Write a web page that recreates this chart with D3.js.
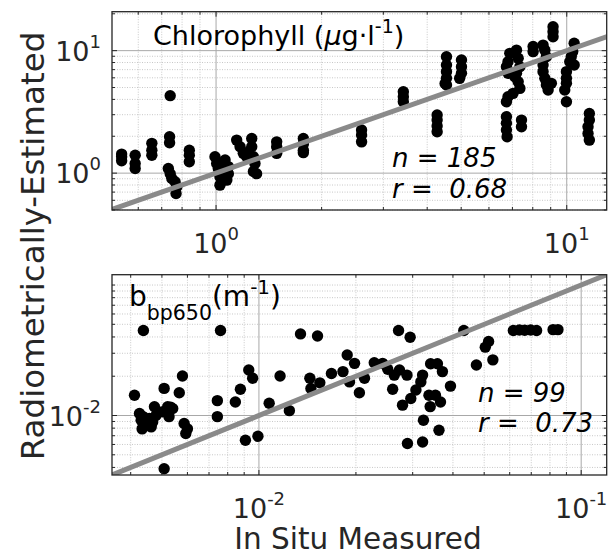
<!DOCTYPE html>
<html><head><meta charset="utf-8">
<script src="https://cdn.jsdelivr.net/npm/d3@7"></script>
<style>body{margin:0;background:#fff}svg{display:block}text{font-family:"DejaVu Sans",sans-serif}</style>
</head><body><svg id="c" width="610" height="559"></svg>
<script>
// ---------------- DATA ----------------
// Chlorophyll panel (in situ x, radiometric y), mg m^-3
const chlX = [0.538,0.538,0.538, 0.588,0.588,0.588, 0.656,0.656,0.656, 0.740, 0.737,0.737,
  0.731,0.740,0.748,0.764,0.773,0.769, 0.839,0.839,0.839,
  0.993,1.004,1.015,1.026,1.026,1.061,1.084,1.084,1.073,1.049,
  1.145,1.171,1.196,1.223,1.264,1.264,1.278,1.291,1.278,1.305,1.236,
  1.489,1.489,1.489, 1.774,1.774,1.774,1.774, 2.60,2.60,2.60, 3.42,3.42,3.42,
  4.27,4.27,4.27,4.27, 4.54,4.54,4.54,4.54,4.54,4.50, 5.01,5.01,5.01,4.95,
  6.88,6.80,6.73,7.19,7.27,7.35,7.19,7.27,7.35,7.03,6.80,6.73,6.73,6.73,6.73,6.76,7.43,7.43,7.11,6.80,
  8.02,8.02,8.56,8.66,8.75,8.56,8.56,8.66,8.75,8.85,9.04,9.14,9.14,9.14,
  10.5,10.4,10.3,10.2,10.5,9.98,9.98,9.98,9.87,9.98,
  11.6,11.6,11.5,11.5,11.6];
const chlY = [1.43,1.26,1.36, 1.40,1.20,1.09, 1.75,1.54,1.40, 4.29, 1.98,1.77,
  1.09,0.99,0.905,0.85,0.773,0.682, 1.54,1.40,1.24,
  1.36,1.20,1.09,0.933,0.798,1.28,1.13,0.99,0.877,1.20,
  1.86,1.64,1.45,1.36,1.92,1.64,1.36,1.20,1.03,0.99,1.49,
  1.80,1.64,1.45, 1.92,1.73,1.54,1.47, 2.25,2.05,1.80, 4.62,4.21,3.83,
  2.98,2.71,2.42,2.18, 8.93,7.64,6.74,5.94,5.24,5.40, 8.40,7.40,6.53,5.94,
  9.51,8.13,7.40,10.1,8.66,7.40,6.53,5.58,4.92,4.48,4.21,3.83,2.89,2.55,2.25,1.98,2.71,2.39,6.13,6.53,
  10.8,9.82,11.1,10.1,8.93,7.64,6.74,5.94,5.24,4.77,5.41,15.7,14.3,13.0,
  11.5,9.82,8.93,8.13,7.64,6.74,5.94,5.41,4.77,3.83,
  3.07,2.71,2.39,2.11,1.86];
// Particulate backscattering at 650 nm panel, m^-1
const bbpX = [0.00438,0.00760,0.01346,0.01520,0.02712,0.02946,0.04323,
  0.0616,0.0643,0.0668,0.0697,0.0727,0.0818,0.0847,
  0.0504,0.0516,0.0473,0.0532,0.00411,
  0.00426,0.00431,0.00437,0.00434,0.00447,0.00457,0.00463,0.00474,0.00479,0.00468,
  0.00508,0.00508,0.00503,0.00521,0.00532,0.00540,0.00526,
  0.00566,0.00579,0.00586,0.00593,0.00600,
  0.00743,0.00743,0.00845,0.00876,0.00908,0.00930,0.00956,0.00993,
  0.01076,0.01163,0.01243,0.01439,0.01450,0.01545,0.01679,0.01823,0.01879,0.0191,0.0198,0.0205,0.02126,
  0.0228,0.0242,0.0251,0.0260,0.0263,0.0279,0.0273,0.0288,0.0289,0.0296,0.0307,0.0318,0.0322,0.0322,0.0324,
  0.0337,0.0340,0.0341,0.0358,0.0353,0.0362,0.0366,0.0371,0.0393];
const bbpY = [0.0448,0.0448,0.0422,0.0407,0.0448,0.0398,0.0448,
  0.0448,0.0452,0.0450,0.0452,0.0448,0.0455,0.0455,
  0.0334,0.0369,0.0244,0.0267,0.0143,
  0.01036,0.0092,0.0098,0.0079,0.00868,0.0095,0.00818,0.01166,0.0100,0.0089,
  0.01614,0.00391,0.0107,0.01166,0.0116,0.0113,0.0098,
  0.01494,0.0201,0.00868,0.00727,0.0079,
  0.0130,0.0098,0.0127,0.0159,0.00646,0.0223,0.0193,0.00693,
  0.0124,0.0201,0.0109,0.0193,0.0161,0.0178,0.0210,0.0217,0.0291,0.0181,0.0251,0.01494,0.0193,
  0.0254,0.0251,0.0226,0.0159,0.0204,0.01201,0.0223,0.0204,0.0061,0.0135,0.0157,0.0181,0.0204,0.00627,0.0092,
  0.0143,0.0117,0.0249,0.0249,0.0143,0.00771,0.0127,0.0217,0.0168];
// axis ranges and tick labels
const chlXDomain = [0.505, 13];
const chlYDomain = [0.5, 20.8];
const bbpDomain = [0.0035, 0.12];
const chlXMajor = [1, 10], chlXExp = ["0", "1"];
const chlYMajor = [1, 10], chlYExp = ["0", "1"];
const bbpXMajor = [0.01, 0.1], bbpXExp = ["-2", "-1"];
const bbpYMajor = [0.01], bbpYExp = ["-2"];
const stats = [{n: "185", r: "0.68"}, {n: "99", r: "0.73"}];

// ---------------- DRAW ----------------
const svg = d3.select("#c");
const TXT = "#262626";

function panel(id, box, xDom, yDom, xs, ys, xMaj, xExp, yMaj, yExp) {
  const x = d3.scaleLog().domain(xDom).range([box.x0, box.x1]);
  const y = d3.scaleLog().domain(yDom).range([box.y1, box.y0]);
  const g = svg.append("g");
  g.append("clipPath").attr("id", id).append("rect")
    .attr("x", box.x0).attr("y", box.y0).attr("width", box.x1 - box.x0).attr("height", box.y1 - box.y0);
  const isMaj = (v, arr) => arr.some(m => Math.abs(v / m - 1) < 1e-6);
  const xMinor = x.ticks().filter(v => !isMaj(v, xMaj));
  const yMinor = y.ticks().filter(v => !isMaj(v, yMaj));
  // minor grid
  g.selectAll(".mgx").data(xMinor).join("line")
    .attr("x1", d => x(d)).attr("x2", d => x(d)).attr("y1", box.y0).attr("y2", box.y1)
    .attr("stroke", "#c8c8c8").attr("stroke-width", 1).attr("stroke-dasharray", "1,1.5");
  g.selectAll(".mgy").data(yMinor).join("line")
    .attr("y1", d => y(d)).attr("y2", d => y(d)).attr("x1", box.x0).attr("x2", box.x1)
    .attr("stroke", "#c8c8c8").attr("stroke-width", 1).attr("stroke-dasharray", "1,1.5");
  // major grid
  g.selectAll(".Mgx").data(xMaj).join("line")
    .attr("x1", d => x(d)).attr("x2", d => x(d)).attr("y1", box.y0).attr("y2", box.y1)
    .attr("stroke", "#a8a8a8").attr("stroke-width", 1);
  g.selectAll(".Mgy").data(yMaj).join("line")
    .attr("y1", d => y(d)).attr("y2", d => y(d)).attr("x1", box.x0).attr("x2", box.x1)
    .attr("stroke", "#a8a8a8").attr("stroke-width", 1);
  // points
  const pts = xs.map((v, i) => [v, ys[i]]);
  g.append("g").attr("clip-path", `url(#${id})`).selectAll("circle").data(pts).join("circle")
    .attr("cx", d => x(d[0])).attr("cy", d => y(d[1])).attr("r", 5.7).attr("fill", "#000");
  // 1:1 line
  const lo = Math.min(xDom[0], yDom[0]) * 0.5, hi = Math.max(xDom[1], yDom[1]) * 2;
  g.append("line").attr("clip-path", `url(#${id})`)
    .attr("x1", x(lo)).attr("y1", y(lo)).attr("x2", x(hi)).attr("y2", y(hi))
    .attr("stroke", "#8a8a8a").attr("stroke-width", 5);
  // ticks (inward, all four sides)
  const tk = g.append("g").attr("stroke", TXT).attr("stroke-width", 1);
  const tx = [...xMinor.map(v => [v, 3]), ...xMaj.map(v => [v, 5])];
  const ty = [...yMinor.map(v => [v, 3]), ...yMaj.map(v => [v, 5])];
  tx.forEach(([v, l]) => {
    tk.append("line").attr("x1", x(v)).attr("x2", x(v)).attr("y1", box.y1).attr("y2", box.y1 - l);
    tk.append("line").attr("x1", x(v)).attr("x2", x(v)).attr("y1", box.y0).attr("y2", box.y0 + l);
  });
  ty.forEach(([v, l]) => {
    tk.append("line").attr("y1", y(v)).attr("y2", y(v)).attr("x1", box.x0).attr("x2", box.x0 + l);
    tk.append("line").attr("y1", y(v)).attr("y2", y(v)).attr("x1", box.x1).attr("x2", box.x1 - l);
  });
  g.append("rect").attr("x", box.x0).attr("y", box.y0).attr("width", box.x1 - box.x0).attr("height", box.y1 - box.y0)
    .attr("fill", "none").attr("stroke", TXT).attr("stroke-width", 1.3);
  // tick labels
  xMaj.forEach((v, i) => {
    const t = g.append("text").attr("x", x(v)).attr("y", box.y1 + 43).attr("text-anchor", "middle")
      .attr("fill", TXT).attr("font-size", 27);
    t.append("tspan").text("10");
    t.append("tspan").attr("dy", -13).attr("font-size", 18).text(xExp[i]);
  });
  yMaj.forEach((v, i) => {
    const t = g.append("text").attr("x", 101).attr("y", y(v) + 10).attr("text-anchor", "end")
      .attr("fill", TXT).attr("font-size", 27);
    t.append("tspan").text("10");
    t.append("tspan").attr("dy", -13).attr("font-size", 18).text(yExp[i]);
  });
  return {x, y, g};
}

const P1 = panel("cp1", {x0: 112, x1: 606.7, y0: 11.7, y1: 210}, chlXDomain, chlYDomain, chlX, chlY,
  chlXMajor, chlXExp, chlYMajor, chlYExp);
const P2 = panel("cp2", {x0: 112, x1: 606.7, y0: 274.7, y1: 475}, bbpDomain, bbpDomain, bbpX, bbpY,
  bbpXMajor, bbpXExp, bbpYMajor, bbpYExp);

// panel titles
const t1 = svg.append("text").attr("x", 153).attr("y", 45).attr("font-size", 27).attr("fill", "#000");
t1.append("tspan").text("Chlorophyll (");
t1.append("tspan").attr("font-style", "italic").text("\u03bc");
t1.append("tspan").text("g\u00b7l");
t1.append("tspan").attr("dy", -12).attr("font-size", 19).text("-1");
t1.append("tspan").attr("dy", 12).text(")");

const t2 = svg.append("text").attr("x", 129).attr("y", 306).attr("font-size", 28).attr("fill", "#000");
t2.append("tspan").text("b");
t2.append("tspan").attr("dy", 14).attr("font-size", 20.5).text("bp650");
t2.append("tspan").attr("dy", -14).text("(m");
t2.append("tspan").attr("dy", -12).attr("font-size", 20).text("-1");
t2.append("tspan").attr("dy", 12).text(")");

// statistics
[[392, 167, 198], [478, 402, 432]].forEach(([sx, yn, yr], i) => {
  svg.append("text").attr("x", sx).attr("y", yn).attr("font-size", 26).attr("font-style", "italic")
    .attr("fill", "#000").style("white-space", "pre").text(`n = ${stats[i].n}`);
  svg.append("text").attr("x", sx).attr("y", yr).attr("font-size", 26).attr("font-style", "italic")
    .attr("fill", "#000").style("white-space", "pre").text(`r =  ${stats[i].r}`);
});

// axis labels
svg.append("text").attr("x", 358).attr("y", 549).attr("text-anchor", "middle").attr("font-size", 29.5)
  .attr("fill", TXT).text("In Situ Measured");
svg.append("text").attr("transform", "translate(44,246) rotate(-90)").attr("text-anchor", "middle")
  .attr("font-size", 32.5).attr("fill", TXT).text("Radiometrically-Estimated");
</script></body></html>
